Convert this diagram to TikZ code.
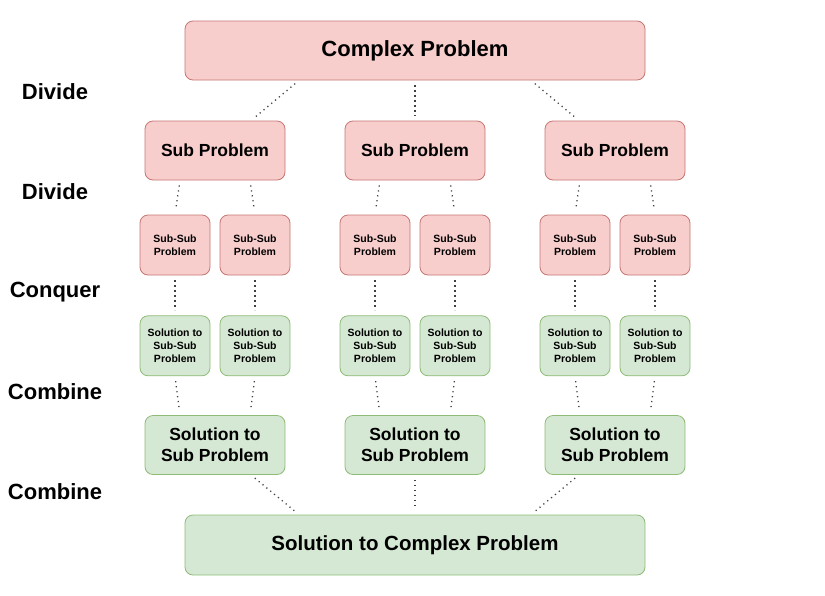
\documentclass[tikz,border=0pt]{standalone}
\usepackage{fontspec}
\setmainfont{Liberation Sans}
\usetikzlibrary{positioning, calc}
\definecolor{probfill}{HTML}{F8CECC}
\definecolor{probdraw}{HTML}{B85450}
\definecolor{solfill}{HTML}{D5E8D4}
\definecolor{soldraw}{HTML}{82B366}
\tikzset{
    base/.style={draw, line width=0.8pt, align=center, font=\bfseries, rounded corners=8pt, inner sep=2pt},
    problem/.style={base, fill=probfill, draw=probdraw!80},
    solution/.style={base, fill=solfill, draw=soldraw!90},
    wide/.style={minimum width=460pt, minimum height=59pt, font=\bfseries\fontsize{20.5}{24}\selectfont},
    mid/.style={minimum width=140pt, minimum height=59pt, font=\bfseries\fontsize{17.5}{21}\selectfont},
    small/.style={minimum width=70pt, minimum height=60pt, font=\bfseries\fontsize{10.5}{13}\selectfont},
    phase/.style={font=\bfseries\fontsize{22}{26}\selectfont},
    link/.style={line width=1.3pt, dash pattern=on 1.2pt off 3.8pt, draw=black!75, shorten <=5pt, shorten >=5pt}
}

\begin{document}
\begin{tikzpicture}[x=1pt, y=-1pt]
    \useasboundingbox (0,0) rectangle (825,595);

    % phase labels
    \node (divA) [phase] at (55,92) {Divide};
    \node (divB) [phase] at (55,192) {Divide};
    \node (conq) [phase] at (55,292) {Conquer};
    \node (combA) [phase] at (55,392) {Combine};
    \node (combB) [phase] at (55,492) {Combine};

    % divide
    \node (cp) [problem, wide, font=\bfseries\fontsize{22}{26}\selectfont] at (415,50.5) {Complex Problem};
    \node (sp1) [problem, mid] at (215,150.5) {Sub Problem};
    \node (sp2) [problem, mid] at (415,150.5) {Sub Problem};
    \node (sp3) [problem, mid] at (615,150.5) {Sub Problem};

    \node (ssp1) [problem, small] at (175,245) {Sub-Sub\\Problem};
    \node (ssp2) [problem, small] at (255,245) {Sub-Sub\\Problem};
    \node (ssp3) [problem, small] at (375,245) {Sub-Sub\\Problem};
    \node (ssp4) [problem, small] at (455,245) {Sub-Sub\\Problem};
    \node (ssp5) [problem, small] at (575,245) {Sub-Sub\\Problem};
    \node (ssp6) [problem, small] at (655,245) {Sub-Sub\\Problem};

    % conquer and combine
    \node (sss1) [solution, small, below=40pt of ssp1] {Solution to\\Sub-Sub\\Problem};
    \node (sss2) [solution, small, below=40pt of ssp2] {Solution to\\Sub-Sub\\Problem};
    \node (sss3) [solution, small, below=40pt of ssp3] {Solution to\\Sub-Sub\\Problem};
    \node (sss4) [solution, small, below=40pt of ssp4] {Solution to\\Sub-Sub\\Problem};
    \node (sss5) [solution, small, below=40pt of ssp5] {Solution to\\Sub-Sub\\Problem};
    \node (sss6) [solution, small, below=40pt of ssp6] {Solution to\\Sub-Sub\\Problem};

    \node (ssol1) [solution, mid] at (215,445) {Solution to\\Sub Problem};
    \node (ssol2) [solution, mid] at (415,445) {Solution to\\Sub Problem};
    \node (ssol3) [solution, mid] at (615,445) {Solution to\\Sub Problem};

    \node (csol) [solution, wide, minimum height=60pt] at (415,545) {Solution to Complex Problem};

    \draw [link] ([xshift=-116pt]cp.south) -- ([xshift=36pt]sp1.north);
    \draw [link] (cp.south) -- (sp2.north);
    \draw [link] ([xshift=116pt]cp.south) -- ([xshift=-36pt]sp3.north);

    \draw [link] ([xshift=-35pt]sp1.south) -- (ssp1.north);
    \draw [link] ([xshift=35pt]sp1.south) -- (ssp2.north);
    \draw [link] ([xshift=-35pt]sp2.south) -- (ssp3.north);
    \draw [link] ([xshift=35pt]sp2.south) -- (ssp4.north);
    \draw [link] ([xshift=-35pt]sp3.south) -- (ssp5.north);
    \draw [link] ([xshift=35pt]sp3.south) -- (ssp6.north);

    \draw [link] (ssp1) -- (sss1);
    \draw [link] (ssp2) -- (sss2);
    \draw [link] (ssp3) -- (sss3);
    \draw [link] (ssp4) -- (sss4);
    \draw [link] (ssp5) -- (sss5);
    \draw [link] (ssp6) -- (sss6);

    \draw [link] (sss1.south) -- ([xshift=-35pt]ssol1.north);
    \draw [link] (sss2.south) -- ([xshift=35pt]ssol1.north);
    \draw [link] (sss3.south) -- ([xshift=-35pt]ssol2.north);
    \draw [link] (sss4.south) -- ([xshift=35pt]ssol2.north);
    \draw [link] (sss5.south) -- ([xshift=-35pt]ssol3.north);
    \draw [link] (sss6.south) -- ([xshift=35pt]ssol3.north);

    \draw [link] ([xshift=36pt]ssol1.south) -- ([xshift=-116pt]csol.north);
    \draw [link] (ssol2.south) -- (csol.north);
    \draw [link] ([xshift=-36pt]ssol3.south) -- ([xshift=116pt]csol.north);
\end{tikzpicture}
\end{document}
